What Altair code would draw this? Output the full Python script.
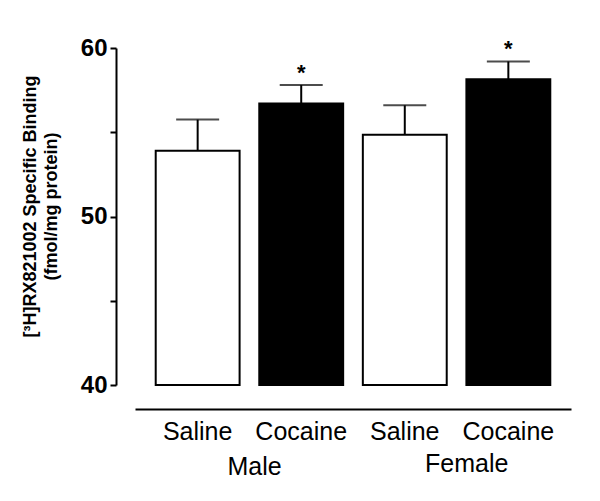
import altair as alt
import pandas as pd

keys = ["Male-Saline", "Male-Cocaine", "Female-Saline", "Female-Cocaine"]
treatments = ["Saline", "Cocaine", "Saline", "Cocaine"]
means = [53.9, 56.7, 54.85, 58.15]
sems = [1.85, 1.1, 1.75, 1.05]
stars = ["", "*", "", "*"]
groups = ["Male", "Female"]
group_first_keys = ["Male-Saline", "Female-Saline"]

df = pd.DataFrame({
    "key": keys,
    "treatment": treatments,
    "mean": means,
    "upper": [m + s for m, s in zip(means, sems)],
    "star": stars,
})
gdf = pd.DataFrame({"key": group_first_keys, "group": groups})

FONT = "Liberation Sans"

x_enc = alt.X(
    "key:N",
    sort=keys,
    scale=alt.Scale(paddingInner=0.19, paddingOuter=0.2),
    axis=alt.Axis(
        title=None,
        labelExpr="split(datum.label, '-')[1]",
        labelAngle=0,
        labelFontSize=25,
        labelFont=FONT,
        labelColor="black",
        labelPadding=10,
        ticks=False,
        domainColor="black",
        domainWidth=2,
        offset=24,
    ),
)

y_scale = alt.Scale(domain=[40, 60], zero=False, nice=False)
y_axis = alt.Axis(
    title=["[³H]RX821002 Specific Binding", "(fmol/mg protein)"],
    titleFont=FONT,
    titleFontSize=18,
    titleFontWeight="bold",
    titleLineHeight=21,
    titleColor="black",
    titlePadding=20,
    titleY=158,
    values=[40, 45, 50, 55, 60],
    labelExpr="datum.value % 10 == 0 ? datum.label : ''",
    labelFont=FONT,
    labelFontSize=24,
    labelFontWeight="bold",
    labelColor="black",
    labelPadding=3,
    tickSize=6,
    tickWidth=2,
    tickColor="black",
    domainColor="black",
    domainWidth=2,
    grid=False,
    offset=19,
)

base = alt.Chart(df)

bars = base.mark_bar(stroke="black", strokeWidth=2).encode(
    x=x_enc,
    y=alt.Y("mean:Q", scale=y_scale, axis=y_axis),
    y2=alt.datum(40),
    fill=alt.Fill(
        "treatment:N",
        scale=alt.Scale(domain=["Saline", "Cocaine"], range=["white", "black"]),
        legend=None,
    ),
)

err = base.mark_rule(color="black", strokeWidth=2).encode(
    x=alt.X("key:N", sort=keys),
    y="mean:Q",
    y2="upper:Q",
)

caps = base.mark_tick(color="black", size=43, thickness=2, orient="horizontal").encode(
    x=alt.X("key:N", sort=keys),
    y="upper:Q",
)

star_text = base.mark_text(
    font=FONT, fontSize=22, fontWeight="bold", color="black", baseline="alphabetic", dy=-5
).encode(
    x=alt.X("key:N", sort=keys),
    y="upper:Q",
    text="star:N",
)

male_label = alt.Chart(gdf.iloc[[0]]).mark_text(
    font=FONT, fontSize=25, color="black", baseline="middle", dx=15
).encode(
    x=alt.X("key:N", sort=keys, bandPosition=1),
    y=alt.value(419),
    text="group:N",
)
female_label = alt.Chart(gdf.iloc[[1]]).mark_text(
    font=FONT, fontSize=25, color="black", baseline="middle", dx=20
).encode(
    x=alt.X("key:N", sort=keys, bandPosition=1),
    y=alt.value(416),
    text="group:N",
)

chart = (
    alt.layer(bars, err, caps, star_text, male_label, female_label)
    .properties(
        width=436,
        height=337,
        padding={"left": 13, "top": 28, "right": 5, "bottom": 5},
    )
    .configure(background="white")
    .configure_view(strokeWidth=0, stroke="transparent")
)

chart.save("out.html", embed_options={"renderer": "svg", "actions": False})
